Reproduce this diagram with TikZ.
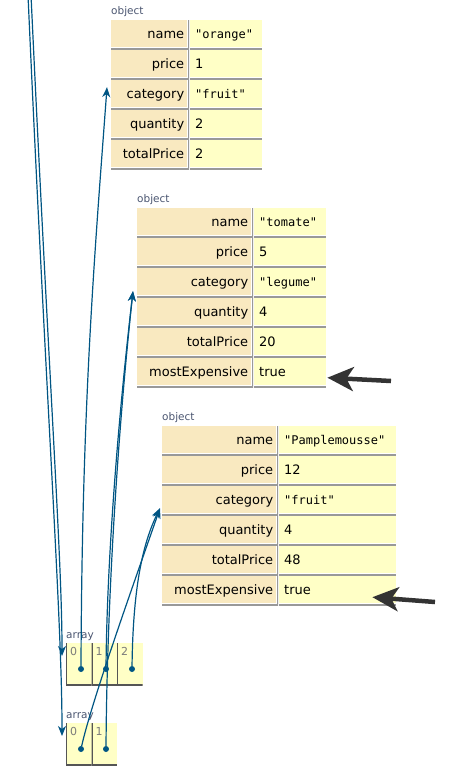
\documentclass[tikz,border=0pt]{standalone}
\usepackage{fontspec}
\setmainfont{DejaVu Sans}
\setmonofont{DejaVu Sans Mono}
\usepackage{xcolor}
\definecolor{keyfill}{HTML}{F9E9C0}
\definecolor{valfill}{HTML}{FFFFC6}
\definecolor{rulegray}{HTML}{999999}
\definecolor{arrline}{HTML}{555555}
\definecolor{ptrblue}{HTML}{005583}
\definecolor{labblue}{HTML}{4A5570}
\definecolor{idxgray}{HTML}{7A7A7A}
\definecolor{hintgray}{HTML}{333333}
\usetikzlibrary{arrows.meta,calc}

\begin{document}
\begin{tikzpicture}[x=1pt,y=-1pt,
  cell/.style={anchor=north west, inner xsep=5pt, inner ysep=0pt,
               minimum height=29pt, text height=10pt, text depth=3pt,
               font=\fontsize{13}{15}\selectfont},
  kcell/.style={cell, fill=keyfill, text width=#1, align=right,
    path picture={
      \draw[white,line width=4pt] (path picture bounding box.south west)
        -- (path picture bounding box.south east) -- (path picture bounding box.north east);
      \draw[rulegray,line width=2pt] (path picture bounding box.south west)
        -- (path picture bounding box.south east) -- (path picture bounding box.north east);}},
  vcell/.style={cell, fill=valfill, text width=#1, align=left,
    path picture={
      \draw[white,line width=4pt] (path picture bounding box.south west)
        -- (path picture bounding box.south east);
      \draw[rulegray,line width=2pt] (path picture bounding box.south west)
        -- (path picture bounding box.south east);}},
  strv/.style={font=\ttfamily\fontsize{12}{14}\selectfont},
  tlab/.style={anchor=base west, inner sep=0pt, text=labblue,
               font=\fontsize{10.5}{12}\selectfont},
  acell/.style={anchor=north west, fill=valfill, inner sep=0pt,
                minimum width=25.5pt, minimum height=42pt,
    path picture={
      \draw[arrline,line width=2pt] (path picture bounding box.north west)
        -- (path picture bounding box.south west) -- (path picture bounding box.south east);}},
  idx/.style={anchor=north west, inner sep=0pt, xshift=4pt, yshift=-4.5pt,
              text=idxgray, font=\fontsize{11}{13}\selectfont},
  pdot/.style={circle, fill=ptrblue, inner sep=0pt, minimum size=6pt},
  ptr/.style={draw=ptrblue, line width=1.2pt,
              -{Stealth[length=10pt,width=8pt,inset=3pt]}},
  hint/.style={draw=hintgray, line width=4.5pt,
               -{Stealth[length=26pt,width=24pt,inset=7pt]}}
]
  \useasboundingbox (0,0) rectangle (476,781);

  %% first object
  \node[tlab] (o1) at (111,14.5) {object};
  \node[kcell=68pt] (k11) at (111,20)  {name};
  \node[vcell=62pt,strv] (v11) at (190,20)  {"orange"};
  \node[kcell=68pt] (k12) at (111,50)  {price};
  \node[vcell=62pt] (v12) at (190,50)  {1};
  \node[kcell=68pt] (k13) at (111,80)  {category};
  \node[vcell=62pt,strv] (v13) at (190,80)  {"fruit"};
  \node[kcell=68pt] (k14) at (111,110) {quantity};
  \node[vcell=62pt] (v14) at (190,110) {2};
  \node[kcell=68pt] (k15) at (111,140) {totalPrice};
  \node[vcell=62pt] (v15) at (190,140) {2};

  %% second object
  \node[tlab] (o2) at (137,202.5) {object};
  \node[kcell=106pt] (k21) at (137,208) {name};
  \node[vcell=62pt,strv] (v21) at (254,208) {"tomate"};
  \node[kcell=106pt] (k22) at (137,238) {price};
  \node[vcell=62pt] (v22) at (254,238) {5};
  \node[kcell=106pt] (k23) at (137,268) {category};
  \node[vcell=62pt,strv] (v23) at (254,268) {"legume"};
  \node[kcell=106pt] (k24) at (137,298) {quantity};
  \node[vcell=62pt] (v24) at (254,298) {4};
  \node[kcell=106pt] (k25) at (137,328) {totalPrice};
  \node[vcell=62pt] (v25) at (254,328) {20};
  \node[kcell=106pt] (k26) at (137,358) {mostExpensive};
  \node[vcell=62pt] (v26) at (254,358) {true};

  %% third object
  \node[tlab] (o3) at (162,420.5) {object};
  \node[kcell=106pt] (k31) at (162,426) {name};
  \node[vcell=107pt,strv] (v31) at (279,426) {"Pamplemousse"};
  \node[kcell=106pt] (k32) at (162,456) {price};
  \node[vcell=107pt] (v32) at (279,456) {12};
  \node[kcell=106pt] (k33) at (162,486) {category};
  \node[vcell=107pt,strv] (v33) at (279,486) {"fruit"};
  \node[kcell=106pt] (k34) at (162,516) {quantity};
  \node[vcell=107pt] (v34) at (279,516) {4};
  \node[kcell=106pt] (k35) at (162,546) {totalPrice};
  \node[vcell=107pt] (v35) at (279,546) {48};
  \node[kcell=106pt] (k36) at (162,576) {mostExpensive};
  \node[vcell=107pt] (v36) at (279,576) {true};

  %% arrays
  \node[tlab] (l1) at (66,638) {array};
  \node[acell,label={[idx]north west:0}] (a10) at (66,643)   {};
  \node[acell,label={[idx]north west:1}] (a11) at (91.5,643) {};
  \node[acell,label={[idx]north west:2}] (a12) at (117,643)  {};
  \node[tlab] (l2) at (66,718) {array};
  \node[acell,label={[idx]north west:0}] (a20) at (66,723)   {};
  \node[acell,label={[idx]north west:1}] (a21) at (91.5,723) {};

  \node[pdot] (d10) at (81,669)  {};
  \node[pdot] (d11) at (106,669) {};
  \node[pdot] (d12) at (132,669) {};
  \node[pdot] (d20) at (81,749)  {};
  \node[pdot] (d21) at (106,749) {};

  %% pointers
  \coordinate (frame1) at (31,-5);
  \coordinate (frame2) at (28,-5);
  \draw[ptr] (frame1) .. controls (50,400) and (62,560) .. ($(a10.north west)+(-4,13)$);
  \draw[ptr] (frame2) .. controls (47,420) and (62,620) .. ($(a20.north west)+(-4,13)$);
  \draw[ptr] (d10) .. controls (82,400) and (95,250) .. ($(k13.west)+(-4,-7.5)$);
  \draw[ptr] (d11) .. controls (107,560) and (118,420) .. ($(k23.west)+(-4,8.5)$);
  \draw[ptr] (d21) .. controls (107,600) and (118,430) .. ($(k23.west)+(-4,8.5)$);
  \draw[ptr] (d12) .. controls (133,590) and (142,545) .. ($(k33.west)+(-2,7.5)$);
  \draw[ptr] (d20) .. controls (92,700) and (135,580) .. ($(k33.west)+(-2,7.5)$);

  %% hints
  \coordinate (hint1) at (391,381);
  \coordinate (hint2) at (435,602);
  \draw[hint] (hint1) -- ($(v26.east)+(1,5)$);
  \draw[hint] (hint2) -- ($(v36.east)+(-24,6.5)$);
\end{tikzpicture}
\end{document}
